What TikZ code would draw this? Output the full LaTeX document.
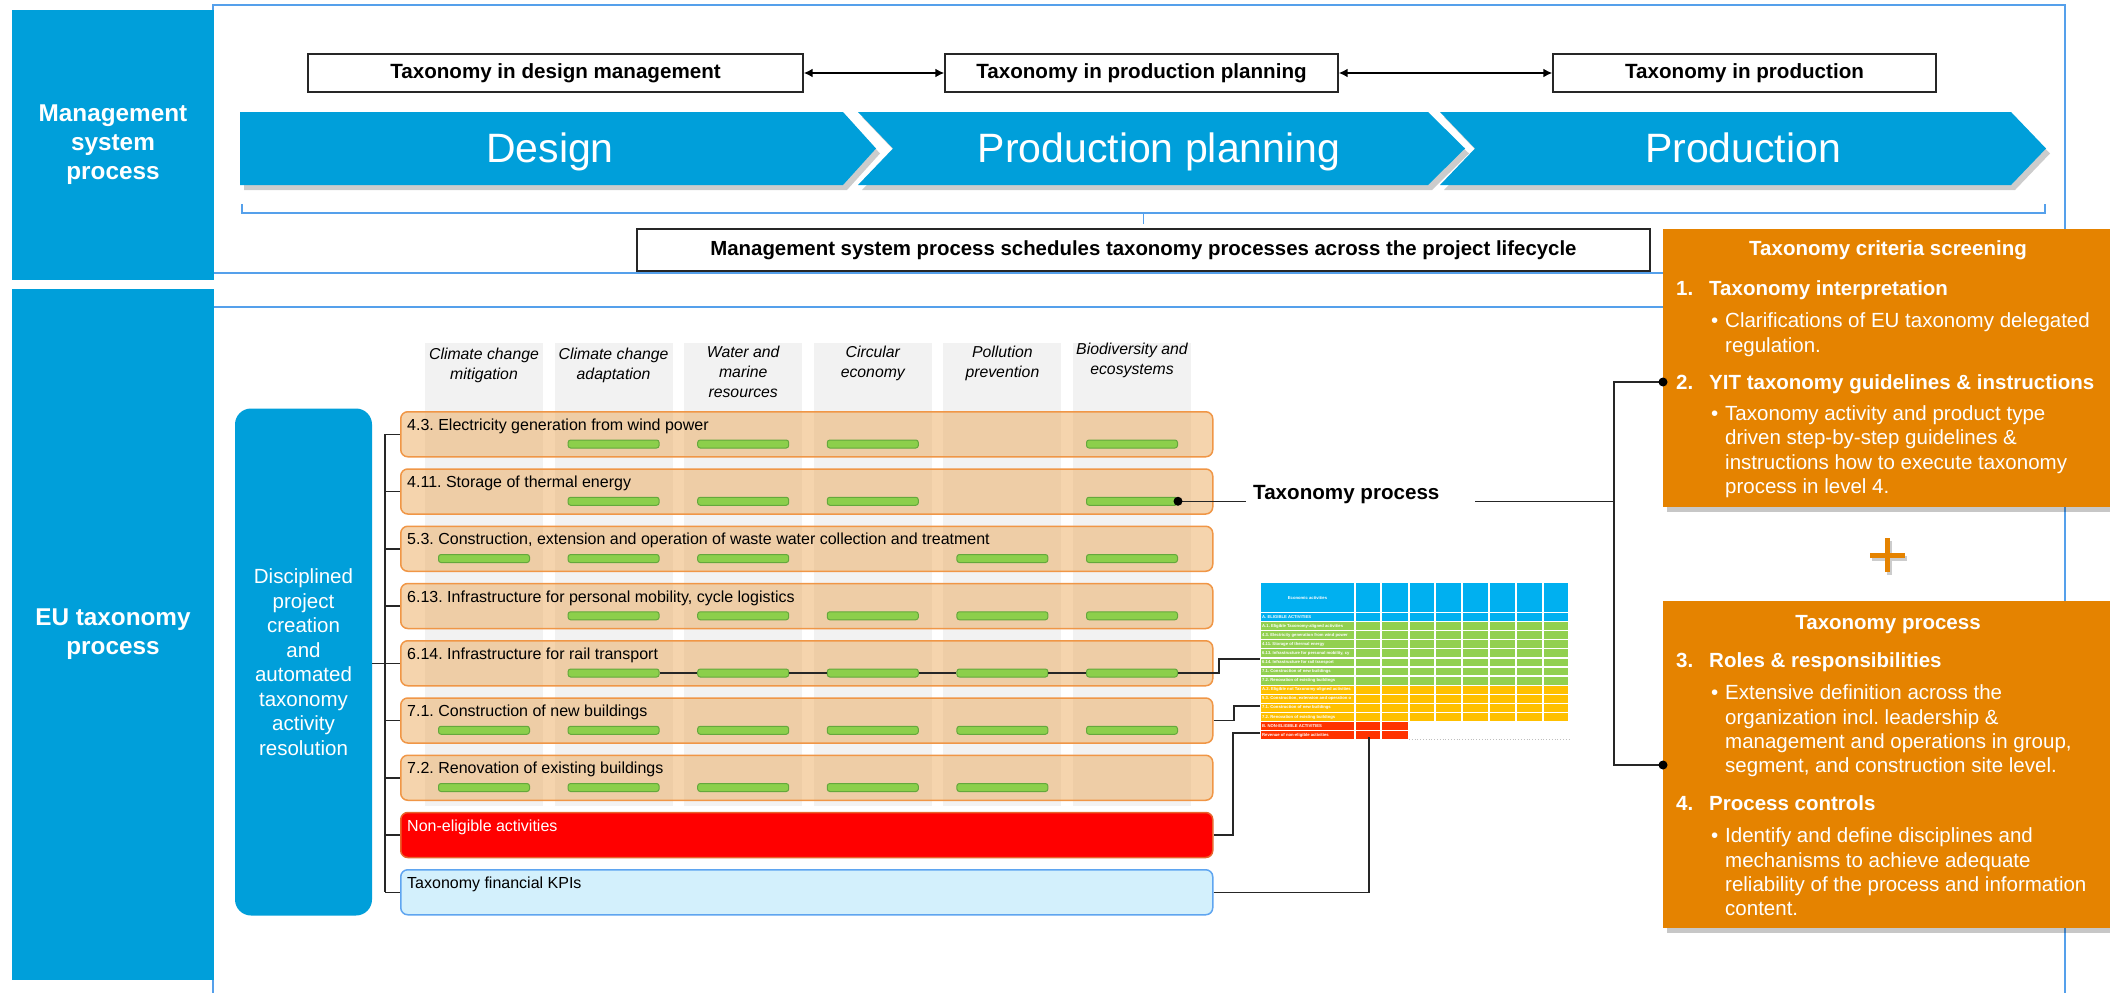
\documentclass[tikz,border=0pt]{standalone}
\usepackage{fontspec}
\setmainfont{Liberation Sans}
\usetikzlibrary{arrows.meta}
\frenchspacing
\definecolor{tblue}{RGB}{0,159,218}
\definecolor{pblue}{RGB}{85,160,235}
\definecolor{oorange}{RGB}{229,131,0}
\definecolor{rowfill}{RGB}{234,160,75}
\definecolor{roworange}{RGB}{240,150,70}
\definecolor{bargreen}{RGB}{140,207,75}
\definecolor{bardark}{RGB}{100,168,60}
\definecolor{bandgray}{RGB}{242,242,242}
\definecolor{nered}{RGB}{255,0,0}
\definecolor{needge}{RGB}{232,100,45}
\definecolor{kpifill}{RGB}{211,240,252}
\definecolor{kpiedge}{RGB}{95,165,240}
\definecolor{thead}{RGB}{0,176,240}
\definecolor{tgreen}{RGB}{146,208,80}
\definecolor{tyellow}{RGB}{255,192,0}
\definecolor{tred}{RGB}{255,51,0}
\begin{document}
\frenchspacing
\begin{tikzpicture}[x=1pt,y=-1pt,
 leftbox/.style={fill=tblue, text=white, align=center, inner sep=0pt, font=\fontsize{24.3}{29}\selectfont\bfseries},
 topbox/.style={draw=black!85, line width=1.4pt, fill=white, inner sep=0pt, minimum height=38pt, font=\fontsize{20.6}{24}\selectfont\bfseries},
 arr/.style={{Latex[length=9pt,width=9pt]}-{Latex[length=9pt,width=9pt]}, line width=2pt, black},
 chev/.style={fill=tblue},
 chevshadow/.style={fill=black, opacity=0.2},
 chevtext/.style={text=white, inner sep=0pt, text height=29.5pt, text depth=0pt, font=\fontsize{41}{48}\selectfont},
 panel/.style={draw=pblue, line width=1.5pt},
 colhead/.style={anchor=north, align=center, inner sep=0pt, font=\fontsize{15.8}{20}\selectfont\itshape},
 actrow/.style={anchor=north west, rounded corners=7pt, draw=roworange, line width=1.5pt, fill=rowfill, fill opacity=0.45, minimum width=812pt, minimum height=45pt, inner sep=0pt},
 nerow/.style={actrow, fill=nered, draw=needge, fill opacity=1},
 kpirow/.style={actrow, fill=kpifill, draw=kpiedge, fill opacity=1},
 rowlab/.style={anchor=west, inner sep=0pt, text height=11.5pt, text depth=0pt, font=\fontsize{16}{19}\selectfont},
 bar/.style={rounded corners=2.5pt, fill=bargreen, draw=bardark, line width=1pt, minimum width=91pt, minimum height=8pt, inner sep=0pt},
 disc/.style={fill=tblue, rounded corners=16pt, text=white, align=center, inner sep=0pt, minimum width=137pt, minimum height=507pt, font=\fontsize{20.5}{24.5}\selectfont},
 conn/.style={draw=black!85, line width=1.5pt},
 obox/.style={anchor=north west, fill=oorange, inner sep=0pt, minimum width=447pt},
 oline/.style={anchor=west, inner sep=0pt, text=white, text height=14.6pt, text depth=0pt, font=\fontsize{20.5}{24}\selectfont},
 ohead/.style={oline, font=\fontsize{20.5}{24}\selectfont\bfseries},
 otitle/.style={ohead, anchor=center},
 ttext/.style={anchor=west, inner sep=0pt, text=white, font=\fontsize{4.2}{5}\selectfont\bfseries},
 dot/.style={fill=black}
]
\useasboundingbox (0,0) rectangle (2110,993);
\fill[white] (0,0) rectangle (2110,993);

% panels
\draw[panel] (213,5) rectangle (2065,273);
\draw[panel] (213,993) -- (213,307) -- (2065,307) -- (2065,993);

% left boxes
\node[leftbox, minimum width=202pt, minimum height=270pt] (msp) at (113,145) {Management\\system\\process};
\node[leftbox, minimum width=202pt, minimum height=691pt] (eup) at (113,634.5) {EU taxonomy\\process};

% top boxes
\node[topbox, minimum width=495pt] (tdm) at (555.5,73) {Taxonomy in design management};
\node[topbox, minimum width=393pt] (tpp) at (1141.5,73) {Taxonomy in production planning};
\node[topbox, minimum width=383pt] (tpr) at (1744.5,73) {Taxonomy in production};
\draw[arr] (tdm) -- (tpp);
\draw[arr] (tpp) -- (tpr);

% chevrons
\begin{scope}[shift={(4,5)}]
\fill[chevshadow] (240,112) -- (843,112) -- (876,148.5) -- (843,185) -- (240,185) -- cycle;
\fill[chevshadow] (858,112) -- (1428,112) -- (1465,148.5) -- (1428,185) -- (858,185) -- (893,148.5) -- cycle;
\fill[chevshadow] (1440,112) -- (2011,112) -- (2046,148.5) -- (2011,185) -- (1440,185) -- (1475,148.5) -- cycle;
\end{scope}
\fill[chev] (240,112) -- (843,112) -- (876,148.5) -- (843,185) -- (240,185) -- cycle;
\fill[chev] (858,112) -- (1428,112) -- (1465,148.5) -- (1428,185) -- (858,185) -- (893,148.5) -- cycle;
\fill[chev] (1440,112) -- (2011,112) -- (2046,148.5) -- (2011,185) -- (1440,185) -- (1475,148.5) -- cycle;
\node[chevtext] (cd) at (550,148) {Design};
\node[chevtext] (cpp) at (1159,148) {Production planning};
\node[chevtext] (cpr) at (1743,148) {Production};

% brace and schedule box
\node[topbox, minimum width=1013pt, minimum height=42pt, font=\fontsize{20.4}{24}\selectfont\bfseries] (sched) at (1143.5,250) {Management system process schedules taxonomy processes across the project lifecycle};
\coordinate (brl) at (242,204);
\coordinate (brr) at (2045,204);
\coordinate (brm) at (1143.5,213);
\draw[panel] (brl) -- (brl |- brm) -- (brr |- brm) -- (brr);
\draw[panel] (brm) -- (brm |- 0,224);

% column bands and headers
\foreach \cx in {484,613.6,743.2,872.8,1002.4,1132}
  \fill[bandgray] (\cx-59,343) rectangle (\cx+59,806);
\node[colhead] (h1) at (484,348) {Climate change\\mitigation};
\node[colhead] (h2) at (613.6,348) {Climate change\\adaptation};
\node[colhead] (h3) at (743.2,346) {Water and\\marine\\resources};
\node[colhead] (h4) at (872.8,346) {Circular\\economy};
\node[colhead] (h5) at (1002.4,346) {Pollution\\prevention};
\node[colhead] (h6) at (1132,343) {Biodiversity and\\ecosystems};

% activity rows
\foreach \i/\lab/\cols in {
  1/{4.3. Electricity generation from wind power}/{2,3,4,6},
  2/{4.11. Storage of thermal energy}/{2,3,4,6},
  3/{5.3. Construction, extension and operation of waste water collection and treatment}/{1,2,3,5,6},
  4/{6.13. Infrastructure for personal mobility, cycle logistics}/{2,3,4,5,6},
  5/{6.14. Infrastructure for rail transport}/{2,3,4,5,6},
  6/{7.1. Construction of new buildings}/{1,2,3,4,5,6},
  7/{7.2. Renovation of existing buildings}/{1,2,3,4,5}}{
  \pgfmathsetmacro\rt{411+57.25*(\i-1)}
  \node[actrow] (r\i) at (400,\rt) {};
  \node[rowlab] (l\i) at (407,\rt+13.5) {\lab};
  \foreach \c in \cols {
    \pgfmathsetmacro\bx{484+129.6*(\c-1)}
    \node[bar] (b\i-\c) at (\bx,\rt+33) {};
  }
}
\node[nerow] (r8) at (400,811.75) {};
\node[rowlab, text=white] (l8) at (407,825.25) {Non-eligible activities};
\node[kpirow] (r9) at (400,869) {};
\node[rowlab] (l9) at (407,882.5) {Taxonomy financial KPIs};

% 6.14 chain
\draw[conn] (b5-2.east) -- (b5-3.west) (b5-3.east) -- (b5-4.west) (b5-4.east) -- (b5-5.west) (b5-5.east) -- (b5-6.west);

% disciplined box and bracket
\node[disc] (disc) at (303.5,662) {Disciplined\\project\\creation\\and\\automated\\taxonomy\\activity\\resolution};
\coordinate (brk) at (385,0);
\draw[conn] (r1.west -| brk) -- (r9.west -| brk);
\foreach \i in {1,...,9} \draw[conn] (r\i.west -| brk) -- (r\i.west);
\draw[conn] (disc.east |- r5.west) -- (r5.west -| brk);

% table
\foreach \k/\col/\n in {0/thead/9,1/tgreen/9,2/tgreen/9,3/tgreen/9,4/tgreen/9,5/tgreen/9,6/tgreen/9,7/tgreen/9,8/tyellow/9,9/tyellow/9,10/tyellow/9,11/tyellow/9,12/tred/3,13/tred/3}{
  \foreach \xa/\xb [count=\ci] in {1260/1355,1355/1381,1381/1409,1409/1435,1435/1462,1462/1489,1489/1516,1516/1543,1543/1569}{
    \ifnum\ci>\n\relax\else
      \fill[\col] (\xa+0.6,613+9.1*\k) rectangle (\xb-0.6,620.8+9.1*\k);
    \fi
  }
}
\foreach \xa/\xb in {1260/1355,1355/1381,1381/1409,1409/1435,1435/1462,1462/1489,1489/1516,1516/1543,1543/1569}
  \fill[thead] (\xa+0.6,583) rectangle (\xb-0.6,611.8);
\draw[black!25, dotted, line width=0.8pt] (1409,739) -- (1569,739);
\node[ttext, anchor=center] (th) at (1307.5,597.5) {Economic activities};
\foreach \k/\t in {0/{A. ELIGIBLE ACTIVITIES},1/{A.1. Eligible Taxonomy-aligned activities},2/{4.3. Electricity generation from wind power},3/{4.11. Storage of thermal energy},4/{6.13. Infrastructure for personal mobility, cy},5/{6.14. Infrastructure for rail transport},6/{7.1. Construction of new buildings},7/{7.2. Renovation of existing buildings},8/{A.2. Eligible not Taxonomy-aligned activities},9/{5.3. Construction, extension and operation o},10/{7.1. Construction of new buildings},11/{7.2. Renovation of existing buildings},12/{B. NON-ELIGIBLE ACTIVITIES},13/{Revenue of non-eligible activities}}
  \node[ttext] (tt\k) at (1262,616.9+9.1*\k) {\t};

% connectors to table
\coordinate (tG5) at (1260,659);
\coordinate (tY3) at (1260,706);
\coordinate (tR2) at (1260,733);
\coordinate (tR2b) at (1369,737);
\coordinate (j1) at (1219,0);
\coordinate (j2) at (1234,0);
\coordinate (j3) at (1233,0);
\draw[conn] (b5-6.east) -| (j1 |- tG5) -- (tG5);
\draw[conn] (r6.east) -| (j2 |- tY3) -- (tY3);
\draw[conn] (r8.east) -| (j3 |- tR2) -- (tR2);
\draw[conn] (r9.east) -| (tR2b);

% orange boxes
\fill[black, opacity=0.22] (1667,234) rectangle (2110,512);
\fill[black, opacity=0.22] (1667,606) rectangle (2110,933);
\node[obox, minimum height=278pt] (ob1) at (1663,229) {};
\node[obox, minimum height=327pt] (ob2) at (1663,601) {};

\node[otitle] (o1t) at (1888,248) {Taxonomy criteria screening};
\node[ohead] (o1n1) at (1676,288) {1.};
\node[ohead] (o1h1) at (1709,288) {Taxonomy interpretation};
\node[oline] (o1b1) at (1711,320) {•};
\node[oline] (o1a) at (1725,320) {Clarifications of EU taxonomy delegated};
\node[oline] (o1b) at (1725,345) {regulation.};
\node[ohead] (o1n2) at (1676,382) {2.};
\node[ohead] (o1h2) at (1709,382) {YIT taxonomy guidelines \& instructions};
\node[oline] (o1b2) at (1711,413) {•};
\node[oline] (o1c) at (1725,413) {Taxonomy activity and product type};
\node[oline] (o1d) at (1725,437) {driven step-by-step guidelines \&};
\node[oline] (o1e) at (1725,462) {instructions how to execute taxonomy};
\node[oline] (o1f) at (1725,486) {process in level 4.};

\node[otitle] (o2t) at (1888,622) {Taxonomy process};
\node[ohead] (o2n3) at (1676,660) {3.};
\node[ohead] (o2h3) at (1709,660) {Roles \& responsibilities};
\node[oline] (o2b3) at (1711,692) {•};
\node[oline] (o2a) at (1725,692) {Extensive definition across the};
\node[oline] (o2b) at (1725,717) {organization incl. leadership \&};
\node[oline] (o2c) at (1725,741) {management and operations in group,};
\node[oline] (o2d) at (1725,765) {segment, and construction site level.};
\node[ohead] (o2n4) at (1676,803) {4.};
\node[ohead] (o2h4) at (1709,803) {Process controls};
\node[oline] (o2b4) at (1711,835) {•};
\node[oline] (o2e) at (1725,835) {Identify and define disciplines and};
\node[oline] (o2f) at (1725,860) {mechanisms to achieve adequate};
\node[oline] (o2g) at (1725,884) {reliability of the process and information};
\node[oline] (o2h) at (1725,908) {content.};

% plus sign
\draw[black, opacity=0.2, line width=5pt] (1872,558) -- (1907,558) (1889.5,541) -- (1889.5,575);
\draw[oorange, line width=5pt] (1870,555) -- (1905,555) (1887.5,538) -- (1887.5,572);

% taxonomy process link
\node[anchor=west, inner sep=0pt, text height=14.6pt, text depth=0pt, font=\fontsize{20.6}{24}\selectfont\bfseries] (tpl) at (1253,492) {Taxonomy process};
\coordinate (tpa) at (1246,0);
\coordinate (tpb) at (1475,0);
\coordinate (cb) at (1614,0);
\coordinate (d1) at (1663,382);
\coordinate (d2) at (1663,765);
\draw[conn] (b2-6.east) -- (b2-6.east -| tpa);
\draw[conn] (b2-6.east -| tpb) -- (b2-6.east -| cb);
\draw[conn] (d1) -- (d1 -| cb) -- (d2 -| cb) -- (d2);
\fill[dot] (b2-6.east) circle (4.5pt);
\fill[dot] (d1) circle (4.5pt);
\fill[dot] (d2) circle (4.5pt);
\end{tikzpicture}
\end{document}
